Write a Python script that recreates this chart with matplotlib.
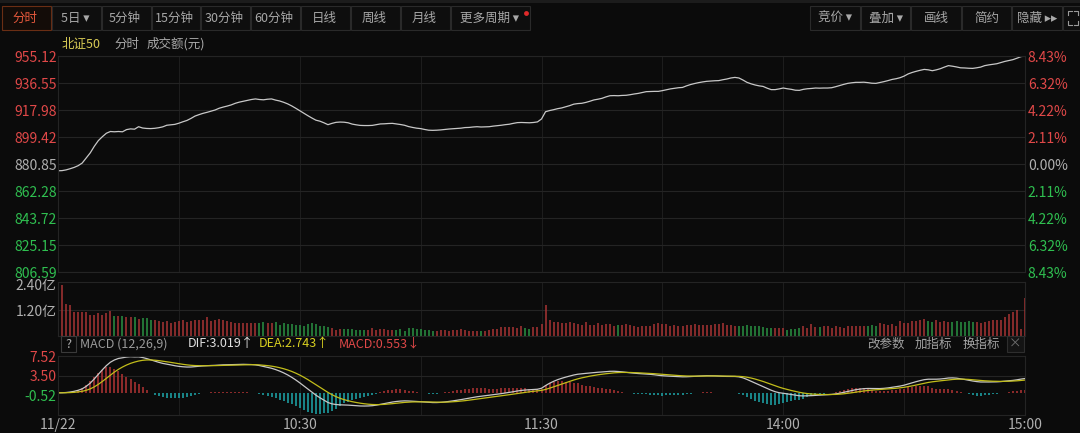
"""
北证50 intraday chart (分时) with volume and MACD panels, dark trading-terminal style.
"""

import numpy as np
import matplotlib.pyplot as plt
from matplotlib.patches import Rectangle
from matplotlib.lines import Line2D

plt.rcParams['font.family'] = ['Noto Sans CJK SC', 'DejaVu Sans']

# ---- data ----
prev_close = 880.85

# minute closes, 9:30 .. 11:30, 13:01 .. 15:00
price = [
    876.2, 876.3, 876.8, 877.6, 878.5, 879.7, 881.5, 885.0, 888.5, 893.0,
    896.9, 899.6, 902.0, 903.2, 903.0, 903.2, 903.0, 904.5, 905.0, 904.8,
    906.5, 905.6, 905.3, 905.2, 905.4, 905.8, 906.4, 907.5, 907.8, 908.1,
    908.9, 909.9, 910.8, 912.2, 913.8, 914.8, 915.7, 916.4, 917.2, 918.0,
    919.2, 920.0, 920.7, 921.5, 922.6, 923.4, 924.0, 924.6, 925.2, 925.6,
    925.2, 925.0, 925.4, 925.6, 924.8, 924.2, 923.3, 922.2, 920.8, 919.2,
    917.5, 915.8, 914.1, 912.5, 911.0, 910.3, 909.2, 907.9, 908.8, 909.5,
    909.7, 909.6, 909.2, 908.3, 907.8, 907.4, 907.3, 907.3, 907.4, 907.9,
    908.4, 908.5, 908.7, 908.8, 908.4, 908.0, 907.5, 906.6, 906.0, 905.5,
    905.2, 904.6, 904.1, 904.0, 904.1, 904.3, 904.6, 904.9, 905.1, 905.3,
    905.5, 905.9, 906.0, 906.3, 906.5, 906.3, 906.4, 906.5, 906.9, 907.2,
    907.5, 907.9, 908.2, 908.8, 909.3, 909.4, 909.3, 909.2, 909.4, 909.8,
    911.8, 916.8, 917.6, 918.2, 918.9, 919.4, 920.2, 921.0, 922.0, 922.4, 922.6,
    923.2, 924.0, 924.9, 925.4, 926.0, 927.0, 927.8, 927.9, 927.8, 928.0,
    928.1, 928.5, 929.0, 929.4, 930.0, 930.6, 930.7, 930.8, 930.8, 931.3,
    931.9, 932.5, 932.9, 933.3, 933.5, 934.6, 935.5, 936.2, 936.8, 937.3,
    937.7, 937.9, 938.1, 938.2, 938.8, 939.3, 940.0, 940.4, 940.0, 938.6,
    937.0, 936.0, 935.2, 934.6, 934.2, 933.0, 932.0, 932.0, 932.5, 933.1,
    932.6, 932.2, 931.6, 931.5, 932.2, 932.6, 932.8, 933.1, 933.0, 933.1,
    933.1, 933.3, 934.0, 934.8, 935.6, 936.3, 936.7, 937.0, 937.0, 937.1,
    936.8, 936.4, 936.3, 936.9, 937.5, 938.2, 939.0, 939.5, 940.2, 941.3,
    942.8, 943.8, 944.6, 945.3, 945.9, 945.6, 945.0, 945.6, 946.4, 947.5,
    948.5, 948.1, 947.6, 947.0, 946.9, 946.7, 946.6, 947.0, 947.5, 948.5,
    949.0, 949.4, 949.8, 950.6, 951.4, 952.0, 952.6, 953.6, 954.7, 955.1,
]

# turnover per minute, 亿元
volume = [
    1.00, 2.38, 1.49, 1.43, 1.12, 1.12, 1.12, 1.12, 0.98, 0.98,
    1.08, 0.98, 1.05, 1.14, 0.92, 0.92, 0.91, 0.88, 0.85, 0.88,
    0.77, 0.82, 0.83, 0.74, 0.74, 0.69, 0.62, 0.69, 0.58, 0.65,
    0.69, 0.72, 0.65, 0.68, 0.74, 0.74, 0.74, 0.88, 0.68, 0.72,
    0.80, 0.72, 0.69, 0.62, 0.58, 0.58, 0.58, 0.60, 0.58, 0.60,
    0.58, 0.62, 0.58, 0.57, 0.62, 0.49, 0.58, 0.54, 0.54, 0.49,
    0.51, 0.46, 0.54, 0.57, 0.54, 0.46, 0.46, 0.38, 0.35, 0.26,
    0.31, 0.31, 0.31, 0.31, 0.26, 0.26, 0.26, 0.28, 0.34, 0.26,
    0.31, 0.31, 0.28, 0.26, 0.26, 0.31, 0.23, 0.34, 0.34, 0.31,
    0.31, 0.28, 0.26, 0.23, 0.23, 0.26, 0.26, 0.23, 0.26, 0.26,
    0.31, 0.26, 0.23, 0.23, 0.23, 0.23, 0.23, 0.26, 0.31, 0.31,
    0.38, 0.38, 0.38, 0.38, 0.35, 0.43, 0.35, 0.31, 0.38, 0.41,
    0.56, 1.43, 0.74, 0.65, 0.65, 0.58, 0.57, 0.65, 0.58, 0.55, 0.49,
    0.62, 0.49, 0.49, 0.58, 0.49, 0.54, 0.55, 0.46, 0.49, 0.49,
    0.52, 0.49, 0.46, 0.38, 0.43, 0.43, 0.46, 0.52, 0.58, 0.54,
    0.52, 0.46, 0.49, 0.46, 0.46, 0.49, 0.49, 0.54, 0.49, 0.49,
    0.49, 0.49, 0.54, 0.54, 0.57, 0.49, 0.49, 0.46, 0.46, 0.46,
    0.49, 0.46, 0.46, 0.43, 0.38, 0.35, 0.34, 0.35, 0.35, 0.35,
    0.28, 0.31, 0.31, 0.34, 0.43, 0.34, 0.54, 0.38, 0.38, 0.43,
    0.43, 0.35, 0.43, 0.38, 0.35, 0.46, 0.43, 0.43, 0.43, 0.46,
    0.43, 0.49, 0.46, 0.58, 0.54, 0.49, 0.54, 0.46, 0.69, 0.58,
    0.58, 0.69, 0.69, 0.74, 0.80, 0.69, 0.65, 0.74, 0.65, 0.69,
    0.62, 0.62, 0.69, 0.62, 0.62, 0.69, 0.62, 0.65, 0.58, 0.62,
    0.69, 0.72, 0.72, 0.74, 0.85, 1.00, 1.11, 1.20, 0.31, 1.75,
]

price_levels = [806.59, 825.15, 843.72, 862.28, 880.85, 899.42, 917.98, 936.55, 955.12]
pct_labels = ['8.43%', '6.32%', '4.22%', '2.11%', '0.00%', '2.11%', '4.22%', '6.32%', '8.43%']
vol_ticks = [1.20, 2.40]
vol_labels = ['1.20亿', '2.40亿']
macd_ticks = [-0.52, 3.50, 7.52]
time_ticks = [0, 60, 120, 180, 240]
time_labels = ['11/22', '10:30', '11:30', '14:00', '15:00']

left_buttons = ['分时', '5日 ▾', '5分钟', '15分钟', '30分钟', '60分钟', '日线', '周线', '月线', '更多周期 ▾']
right_buttons = ['竞价 ▾', '叠加 ▾', '画线', '简约', '隐藏 ▸▸']

# ---- colours ----
BG = '#0b0b0b'
GRID = '#242424'
RED = '#e04848'
GREEN = '#2fbf50'
GRAY = '#b0b0b0'
VRED = '#a83434'
VGREEN = '#2a9242'


def ema(vals, n):
    a = 2.0 / (n + 1)
    out = [vals[0]]
    for v in vals[1:]:
        out.append(out[-1] + a * (v - out[-1]))
    return np.array(out)


p = np.array(price)
x = np.arange(len(p))
dif = ema(p, 12) - ema(p, 26)
dea = ema(dif, 9)
hist = 2 * (dif - dea)
prev = np.concatenate([[prev_close], p[:-1]])
vcolors = [VRED if c >= o else VGREEN for c, o in zip(p, prev)]
hcolors = ['#b33434' if h >= 0 else '#1ea8ac' for h in hist]

# ---- figure ----
W, H = 1080, 433
plt.close('all')
fig = plt.figure(figsize=(W / 100, H / 100), dpi=100, facecolor=BG)


def px_axes(l, t, r, b):
    ax = fig.add_axes([l / W, 1 - b / H, (r - l) / W, (b - t) / H])
    ax.set_facecolor('none')
    for s in ax.spines.values():
        s.set_color(GRID)
        s.set_linewidth(0.8)
    ax.set_xlim(0, 240)
    for t in range(30, 240, 30):
        ax.axvline(t, color='#1d1d1d', lw=0.8, zorder=0)
    return ax


def px_rect(x0, y0, w, h, **kw):
    r = Rectangle((x0 / W, 1 - (y0 + h) / H), w / W, h / H, transform=fig.transFigure, **kw)
    fig.patches.append(r)


def px_text(xp, yp, s, **kw):
    fig.text(xp / W, 1 - yp / H, s, **kw)


# toolbar
px_rect(0, 0, W, 3, facecolor='#1c1c1c', edgecolor='none')
lx = [2, 52, 102, 152, 201, 251, 301, 351, 401, 451, 531]
for k, lab in enumerate(left_buttons):
    sel = k == 0
    px_rect(lx[k], 6, lx[k + 1] - lx[k] - 1, 24, facecolor='#130c08' if sel else '#0e0e0e',
            edgecolor='#6a2e14' if sel else '#2a2a2a', lw=0.8)
    px_text((lx[k] + lx[k + 1]) / 2 - 2, 18.5, lab, ha='center', va='center', fontsize=9,
            color='#e4583c' if sel else '#a8a8a8')
fig.lines.append(Line2D([526 / W], [1 - 13 / H], transform=fig.transFigure, marker='o',
                        ms=3.5, mfc='#e02a2a', mec='none', ls='none'))
rx = [810, 861, 911, 962, 1012, 1063]
for k, lab in enumerate(right_buttons):
    px_rect(rx[k], 6, rx[k + 1] - rx[k] - 1, 24, facecolor='#0e0e0e', edgecolor='#2a2a2a', lw=0.8)
    px_text((rx[k] + rx[k + 1]) / 2, 18.5, lab, ha='center', va='center', fontsize=9, color='#a8a8a8')
px_rect(1063, 6, 20, 24, facecolor='#0e0e0e', edgecolor='#2a2a2a', lw=0.8)
for (x0, y0, dx, dy) in [(1068, 11, 4, 4), (1078, 11, -4, 4), (1068, 25, 4, -4), (1078, 25, -4, -4)]:
    fig.lines.append(Line2D([x0 / W, x0 / W, (x0 + dx) / W], [1 - (y0 + dy) / H, 1 - y0 / H, 1 - y0 / H],
                            transform=fig.transFigure, color='#9a9a9a', lw=0.8))

# header line
px_text(62, 44, '北证50', va='center', fontsize=9, color='#d9cb55')
px_text(114, 44, '分时', va='center', fontsize=9, color='#a8a8a8')
px_text(147, 44, '成交额(元)', va='center', fontsize=9, color='#a8a8a8')

# ---- price panel ----
ax = px_axes(58, 56, 1025, 272)
ax.set_ylim(price_levels[0], price_levels[-1])
for lv in price_levels:
    ax.axhline(lv, color=GRID, lw=0.8, zorder=0)
ax.plot(x, p, color='#c8c8c8', lw=0.9)
ax.set_xticks([])
ax.set_yticks(price_levels)
ax.set_yticklabels([f'{v:.2f}' for v in price_levels])
ax.tick_params(axis='y', length=0, pad=1, labelsize=10)
for lab, v in zip(ax.get_yticklabels(), price_levels):
    lab.set_color(RED if v > prev_close + 0.01 else (GREEN if v < prev_close - 0.01 else GRAY))
ax2 = ax.twinx()
ax2.set_ylim(ax.get_ylim())
ax2.set_yticks(price_levels)
ax2.set_yticklabels(pct_labels)
ax2.tick_params(axis='y', length=0, pad=2, labelsize=10)
for s in ax2.spines.values():
    s.set_visible(False)
for lab, v in zip(ax2.get_yticklabels(), price_levels):
    lab.set_color(RED if v > prev_close + 0.01 else (GREEN if v < prev_close - 0.01 else GRAY))

# ---- volume panel ----
axv = px_axes(58, 282, 1025, 335.5)
axv.set_ylim(0, 2.52)
axv.axhline(1.2, color=GRID, lw=0.8, zorder=0)
axv.vlines(x, 0, volume, colors=vcolors, linewidth=1.1)
axv.set_xticks([])
axv.set_yticks(vol_ticks)
axv.set_yticklabels(vol_labels)
axv.tick_params(axis='y', length=0, pad=1, labelsize=10, labelcolor=GRAY)

# ---- MACD panel ----
axm = px_axes(58, 356, 1025, 415)
axm.set_ylim(-4.54, 7.52)
axm.axhline(3.50, color=GRID, lw=0.8, zorder=0)
axm.vlines(x, 0, hist, colors=hcolors, linewidth=1.1)
axm.plot(x, dif, color='#c8c8c8', lw=0.9)
axm.plot(x, dea, color='#c2bd1a', lw=0.9)
axm.set_yticks(macd_ticks)
axm.set_yticklabels([f'{v:.2f}' for v in macd_ticks])
axm.tick_params(axis='y', length=0, pad=1, labelsize=10)
for lab, v in zip(axm.get_yticklabels(), macd_ticks):
    lab.set_color(RED if v > 0 else GREEN)
axm.set_xticks(time_ticks)
axm.set_xticklabels(time_labels)
axm.tick_params(axis='x', length=0, pad=2, labelsize=10, labelcolor=GRAY)

# MACD header
px_rect(61, 336, 15, 16, facecolor='none', edgecolor='#3a3a3a', lw=0.8)
px_text(68.5, 344, '?', ha='center', va='center', fontsize=9, color='#b0b0b0')
px_text(80, 344, 'MACD (12,26,9)', va='center', fontsize=9, color='#9a9a9a')
px_text(188, 344, 'DIF:3.019↑', va='center', fontsize=9, color='#e0e0e0')
px_text(259, 344, 'DEA:2.743↑', va='center', fontsize=9, color='#d8d020')
px_text(339, 344, 'MACD:0.553↓', va='center', fontsize=9, color=RED)
px_text(867, 344, '改参数', va='center', fontsize=9, color='#a0a0a0')
px_text(915, 344, '加指标', va='center', fontsize=9, color='#a0a0a0')
px_text(963, 344, '换指标', va='center', fontsize=9, color='#a0a0a0')
px_rect(1007, 336, 17, 16, facecolor='#141414', edgecolor='#2e2e2e', lw=0.8)
px_text(1015.5, 344, '×', ha='center', va='center', fontsize=9, color='#707070')

fig.savefig('out.png', dpi=100, facecolor=BG)
